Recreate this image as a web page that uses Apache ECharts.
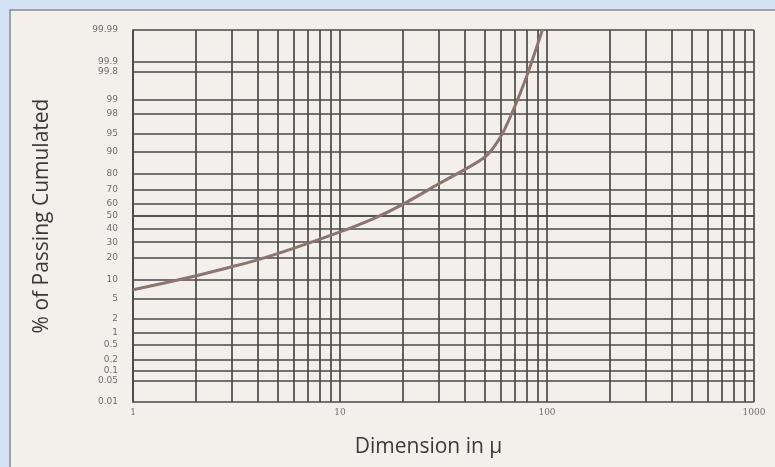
<!DOCTYPE html>
<html>
<head>
<meta charset="utf-8">
<script src="https://cdn.jsdelivr.net/npm/echarts@6/dist/echarts.min.js"></script>
<style>
  html, body { margin: 0; padding: 0; background: #d5e2f3; }
  #chart { width: 775px; height: 467px; }
</style>
</head>
<body>
<div id="chart"></div>
<script>
// Grain-size distribution on log / normal-probability paper.
const dimensions = [1, 2, 3, 4, 6, 10, 15, 20, 30, 50, 60, 70, 80, 95];
const passing    = [7, 11.5, 15.5, 19, 26, 37.5, 49, 59, 74, 88, 94.5, 98.6, 99.75, 99.99];

// Probability-axis labels (percent) and log-axis labels (microns)
const percentTicks = ['0.01', '0.05', '0.1', '0.2', '0.5', '1', '2', '5', '10', '20', '30',
                      '40', '50', '60', '70', '80', '90', '95', '98', '99', '99.8', '99.9', '99.99'];
const sizeTicks = [1, 10, 100, 1000];
const sizeGrid  = [1, 2, 3, 4, 5, 6, 7, 8, 9, 10, 20, 30, 40, 50, 60, 70, 80, 90,
                   100, 200, 300, 400, 500, 600, 700, 800, 900, 1000];

// Inverse standard normal CDF (Acklam's rational approximation)
function probit(p) {
  const a = [-3.969683028665376e+01, 2.209460984245205e+02, -2.759285104469687e+02,
             1.383577518672690e+02, -3.066479806614716e+01, 2.506628277459239e+00];
  const b = [-5.447609879822406e+01, 1.615858368580409e+02, -1.556989798598866e+02,
             6.680131188771972e+01, -1.328068155288572e+01];
  const c = [-7.784894002430293e-03, -3.223964580411365e-01, -2.400758277161838e+00,
             -2.549732539343734e+00, 4.374664141464968e+00, 2.938163982698783e+00];
  const d = [7.784695709041462e-03, 3.224671290700398e-01, 2.445134137142996e+00,
             3.754408661907416e+00];
  const pl = 0.02425, ph = 1 - pl;
  let q, r;
  if (p < pl) {
    q = Math.sqrt(-2 * Math.log(p));
    return (((((c[0]*q+c[1])*q+c[2])*q+c[3])*q+c[4])*q+c[5]) /
           ((((d[0]*q+d[1])*q+d[2])*q+d[3])*q+1);
  }
  if (p <= ph) {
    q = p - 0.5; r = q * q;
    return (((((a[0]*r+a[1])*r+a[2])*r+a[3])*r+a[4])*r+a[5])*q /
           (((((b[0]*r+b[1])*r+b[2])*r+b[3])*r+b[4])*r+1);
  }
  q = Math.sqrt(-2 * Math.log(1 - p));
  return -(((((c[0]*q+c[1])*q+c[2])*q+c[3])*q+c[4])*q+c[5]) /
          ((((d[0]*q+d[1])*q+d[2])*q+d[3])*q+1);
}

const zOf = pct => probit(parseFloat(pct) / 100);
const yTickValues = percentTicks.map(zOf);
const yMin = yTickValues[0];
const yMax = yTickValues[yTickValues.length - 1];

function percentLabel(v) {
  let best = 0, bestDiff = Infinity;
  yTickValues.forEach((t, i) => {
    const dd = Math.abs(t - v);
    if (dd < bestDiff) { bestDiff = dd; best = i; }
  });
  return percentTicks[best];
}

const curve = dimensions.map((dm, i) => [Math.log10(dm), probit(passing[i] / 100)]);

const gridLine = { show: true, lineStyle: { color: '#4a4a4a', width: 1.7 } };

const chart = echarts.init(document.getElementById('chart'), null, { renderer: 'canvas' });
chart.setOption({
  backgroundColor: '#d5e2f3',
  animation: false,
  graphic: [{
    type: 'rect',
    z: -10,
    shape: { x: 10, y: 10, width: 780, height: 470 },
    style: { fill: '#f3f0eb', stroke: '#8a8a8a', lineWidth: 1.5 }
  }],
  grid: { left: 133, right: 21, top: 30, bottom: 65 },
  xAxis: {
    type: 'value',
    min: 0,
    max: 3,
    name: 'Dimension in µ',
    nameLocation: 'middle',
    nameGap: 35,
    nameTextStyle: { fontFamily: 'Open Sans', fontSize: 21, color: '#3a3a3a', padding: [0, 30, 0, 0] },
    axisLine: { show: true, lineStyle: { color: '#4a4a4a', width: 1.7 } },
    axisTick: { show: false, customValues: sizeGrid.map(v => Math.log10(v)) },
    axisLabel: {
      customValues: sizeTicks.map(v => Math.log10(v)),
      formatter: v => String(Math.round(Math.pow(10, v))),
      fontFamily: 'DejaVu Serif',
      fontSize: 9,
      color: '#707070',
      margin: 6
    },
    splitLine: gridLine
  },
  yAxis: {
    type: 'value',
    min: yMin,
    max: yMax,
    name: '% of Passing Cumulated',
    nameLocation: 'middle',
    nameGap: 80,
    nameTextStyle: { fontFamily: 'Open Sans', fontSize: 21, color: '#3a3a3a' },
    axisLine: { show: true, lineStyle: { color: '#4a4a4a', width: 1.7 } },
    axisTick: { show: false, customValues: yTickValues },
    axisLabel: {
      customValues: yTickValues,
      formatter: v => percentLabel(v),
      fontFamily: 'DejaVu Sans',
      fontSize: 9,
      color: '#6e6e6e',
      margin: 15
    },
    splitLine: gridLine
  },
  series: [{
    type: 'line',
    data: curve,
    smooth: 0.25,
    symbol: 'none',
    lineStyle: { color: '#8c7470', width: 3 },
    z: 5
  }]
});
</script>
</body>
</html>
